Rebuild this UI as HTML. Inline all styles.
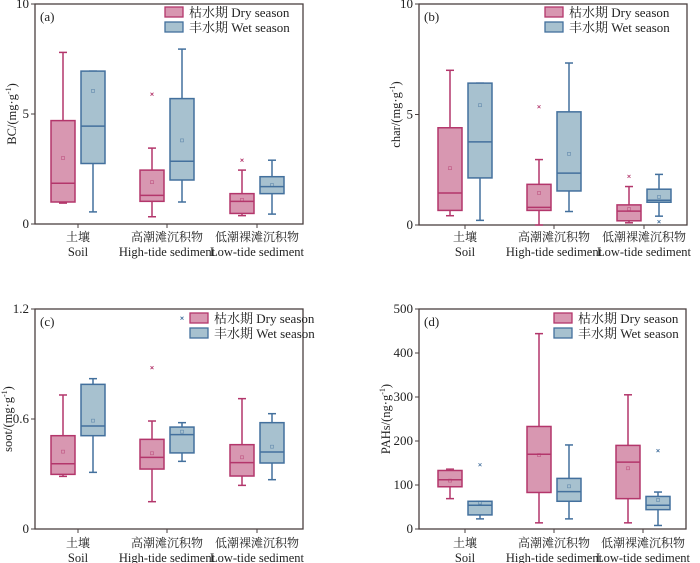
<!DOCTYPE html>
<html><head><meta charset="utf-8"><style>
html,body{margin:0;padding:0;background:#fff;}
svg{display:block;font-family:"Liberation Serif","Noto Serif CJK SC",serif;}
</style></head><body>
<svg id="c" width="700" height="563" viewBox="0 0 700 563" xmlns="http://www.w3.org/2000/svg"></svg>
<script>
const categoriesZh = ["土壤","高潮滩沉积物","低潮裸滩沉积物"];
const categoriesEn = ["Soil","High-tide sediment","Low-tide sediment"];
// stats: [min, q1, median, q3, max, mean]
const bcDry = [[0.95,1.0,1.85,4.7,7.8,3.0],[0.33,1.03,1.3,2.45,3.45,1.9],[0.38,0.48,1.03,1.38,2.45,1.1]];
const bcWet = [[0.55,2.75,4.45,6.95,6.95,6.05],[1.0,2.0,2.85,5.7,7.95,3.8],[0.45,1.38,1.7,2.15,2.9,1.77]];
const bcDryOut = [[],[5.9],[2.9]];
const bcWetOut = [[],[],[]];
const charDry = [[0.42,0.66,1.45,4.4,7.0,2.57],[0,0.66,0.8,1.84,2.96,1.45],[0.1,0.19,0.63,0.91,1.74,0.72]];
const charWet = [[0.21,2.13,3.76,6.42,6.42,5.42],[0.61,1.54,2.35,5.12,7.33,3.22],[0.4,1.03,1.12,1.62,2.29,1.27]];
const charDryOut = [[],[5.35],[2.2]];
const charWetOut = [[],[],[0.15]];
const sootDry = [[0.287,0.298,0.356,0.509,0.731,0.422],[0.149,0.327,0.391,0.489,0.589,0.413],[0.238,0.289,0.362,0.46,0.711,0.391]];
const sootWet = [[0.309,0.509,0.562,0.789,0.82,0.591],[0.369,0.415,0.515,0.556,0.58,0.531],[0.269,0.36,0.42,0.58,0.629,0.449]];
const sootDryOut = [[],[0.88],[]];
const sootWetOut = [[],[1.15],[]];
const pahDry = [[69,96,112,133,136,110],[14,83,170,233,444,168],[14,69,152,190,305,138]];
const pahWet = [[23,32,54,63,63,60],[23,63,85,115,191,97],[8,44,54,74,84,66]];
const pahDryOut = [[],[],[]];
const pahWetOut = [[146],[],[178]];
const bcTicks = [0,5,10];
const charTicks = [0,5,10];
const sootTicks = [0,0.6,1.2];
const pahTicks = [0,100,200,300,400,500];

const NS="http://www.w3.org/2000/svg";
const svg=document.getElementById('c');
function mk(tag,attrs,parent,text){const e=document.createElementNS(NS,tag);for(const k in attrs)e.setAttribute(k,attrs[k]);if(text!==undefined)e.textContent=text;(parent||svg).appendChild(e);return e;}
const DRY_F="#d897b1",DRY_S="#b3366b",WET_F="#a7c1cf",WET_S="#43709d";

const panels=[
 {id:"a",x0:35,x1:303,y0:4,y1:224,ymax:10,ticks:bcTicks,dry:bcDry,wet:bcWet,dOut:bcDryOut,wOut:bcWetOut,ylab:"BC/(mg·g",tx:12,lx:165,ly:7,cx:[78,167,257],zhY:236,enY:251},
 {id:"b",x0:419,x1:687,y0:4,y1:225,ymax:10,ticks:charTicks,dry:charDry,wet:charWet,dOut:charDryOut,wOut:charWetOut,ylab:"char/(mg·g",tx:396,lx:545,ly:7,cx:[465,554,644],zhY:236,enY:251},
 {id:"c",x0:35,x1:303,y0:309,y1:529,ymax:1.2,ticks:sootTicks,dry:sootDry,wet:sootWet,dOut:sootDryOut,wOut:sootWetOut,ylab:"soot/(mg·g",tx:8,lx:190,ly:313,cx:[78,167,257],zhY:542,enY:557},
 {id:"d",x0:419,x1:686,y0:309,y1:529,ymax:500,ticks:pahTicks,dry:pahDry,wet:pahWet,dOut:pahDryOut,wOut:pahWetOut,ylab:"PAHs/(ng·g",tx:386,lx:554,ly:313,cx:[465,554,643],zhY:542,enY:557}
];

panels.forEach(p=>{
 const g=mk('g',{});
 
 
 const y=v=>p.y1-(v/p.ymax)*(p.y1-p.y0);
 const fr=mk('rect',{x:p.x0,y:p.y0,width:p.x1-p.x0,height:p.y1-p.y0,fill:"none",stroke:"#4a4040","stroke-width":1.3},g);
 
 
 p.ticks.forEach(t=>{
  const yy=y(t);
  mk('line',{x1:p.x0-4,x2:p.x0,y1:yy,y2:yy,stroke:"#4a4040"},g);
  const tl=mk('text',{x:p.x0-6,y:yy+4,"text-anchor":"end","font-size":13,fill:"#222"},g,String(t));
  
  
 });
 const ly=(p.y0+p.y1)/2, lx=p.tx+4;
 const yl=mk('text',{x:lx,y:ly,transform:`rotate(-90 ${lx} ${ly})`,"text-anchor":"middle","font-size":12.5,fill:"#222"},g);
 
 
 mk('tspan',{},yl,p.ylab);
 mk('tspan',{"font-size":8,dy:-5},yl,"-1");
 mk('tspan',{dy:5},yl,")");
 const pl=mk('text',{x:p.x0+5,y:p.y0+17,"font-size":13,fill:"#222"},g,"("+p.id+")");
 
 
 p.cx.forEach((cx,i)=>{
  mk('line',{x1:cx,x2:cx,y1:p.y1,y2:p.y1+4,stroke:"#4a4040"},g);
  const zt=mk('text',{x:cx,y:p.zhY+5,"text-anchor":"middle","font-size":12,fill:"#222"},g,categoriesZh[i]);
  
  
  const et=mk('text',{x:cx,y:p.enY+5,"text-anchor":"middle","font-size":12.5,fill:"#222"},g,categoriesEn[i]);
  
  
  [[p.dry[i],p.dOut[i],-15,DRY_F,DRY_S,'dry'],[p.wet[i],p.wOut[i],15,WET_F,WET_S,'wet']].forEach(([s,outs,off,f,st,nm])=>{
   const bx=cx+off, w=24;
   const bg=mk('g',{},g);
   
   
   mk('line',{x1:bx,x2:bx,y1:y(s[4]),y2:y(s[3]),stroke:st,"stroke-width":1.5},bg);
   mk('line',{x1:bx,x2:bx,y1:y(s[1]),y2:y(s[0]),stroke:st,"stroke-width":1.5},bg);
   mk('line',{x1:bx-4,x2:bx+4,y1:y(s[4]),y2:y(s[4]),stroke:st,"stroke-width":1.5},bg);
   mk('line',{x1:bx-4,x2:bx+4,y1:y(s[0]),y2:y(s[0]),stroke:st,"stroke-width":1.5},bg);
   mk('rect',{x:bx-w/2,y:y(s[3]),width:w,height:Math.max(0.5,y(s[1])-y(s[3])),fill:f,stroke:st,"stroke-width":1.5},bg);
   mk('line',{x1:bx-w/2,x2:bx+w/2,y1:y(s[2]),y2:y(s[2]),stroke:st,"stroke-width":1.5},bg);
   mk('rect',{x:bx-1.5,y:y(s[5])-1.5,width:3,height:3,fill:"none",stroke:st,"stroke-width":0.6,opacity:0.7},bg);
   outs.forEach(o=>{
    const oy=y(o);
    mk('path',{d:`M${bx-1.5} ${oy-1.5}L${bx+1.5} ${oy+1.5}M${bx-1.5} ${oy+1.5}L${bx+1.5} ${oy-1.5}`,stroke:st,"stroke-width":0.8},bg);
   });
  });
 });
 const lg=mk('g',{},g);
 
 
 [[DRY_F,DRY_S,"枯水期 Dry season"],[WET_F,WET_S,"丰水期 Wet season"]].forEach(([f,s,t],k)=>{
  const yy=p.ly+k*15;
  const le=mk('g',{},lg);
  
  
  mk('rect',{x:p.lx,y:yy,width:18,height:10,fill:f,stroke:s,"stroke-width":1.3},le);
  mk('text',{x:p.lx+24,y:yy+10,"font-size":13,fill:"#222"},le,t);
 });
});
</script>
</body></html>
